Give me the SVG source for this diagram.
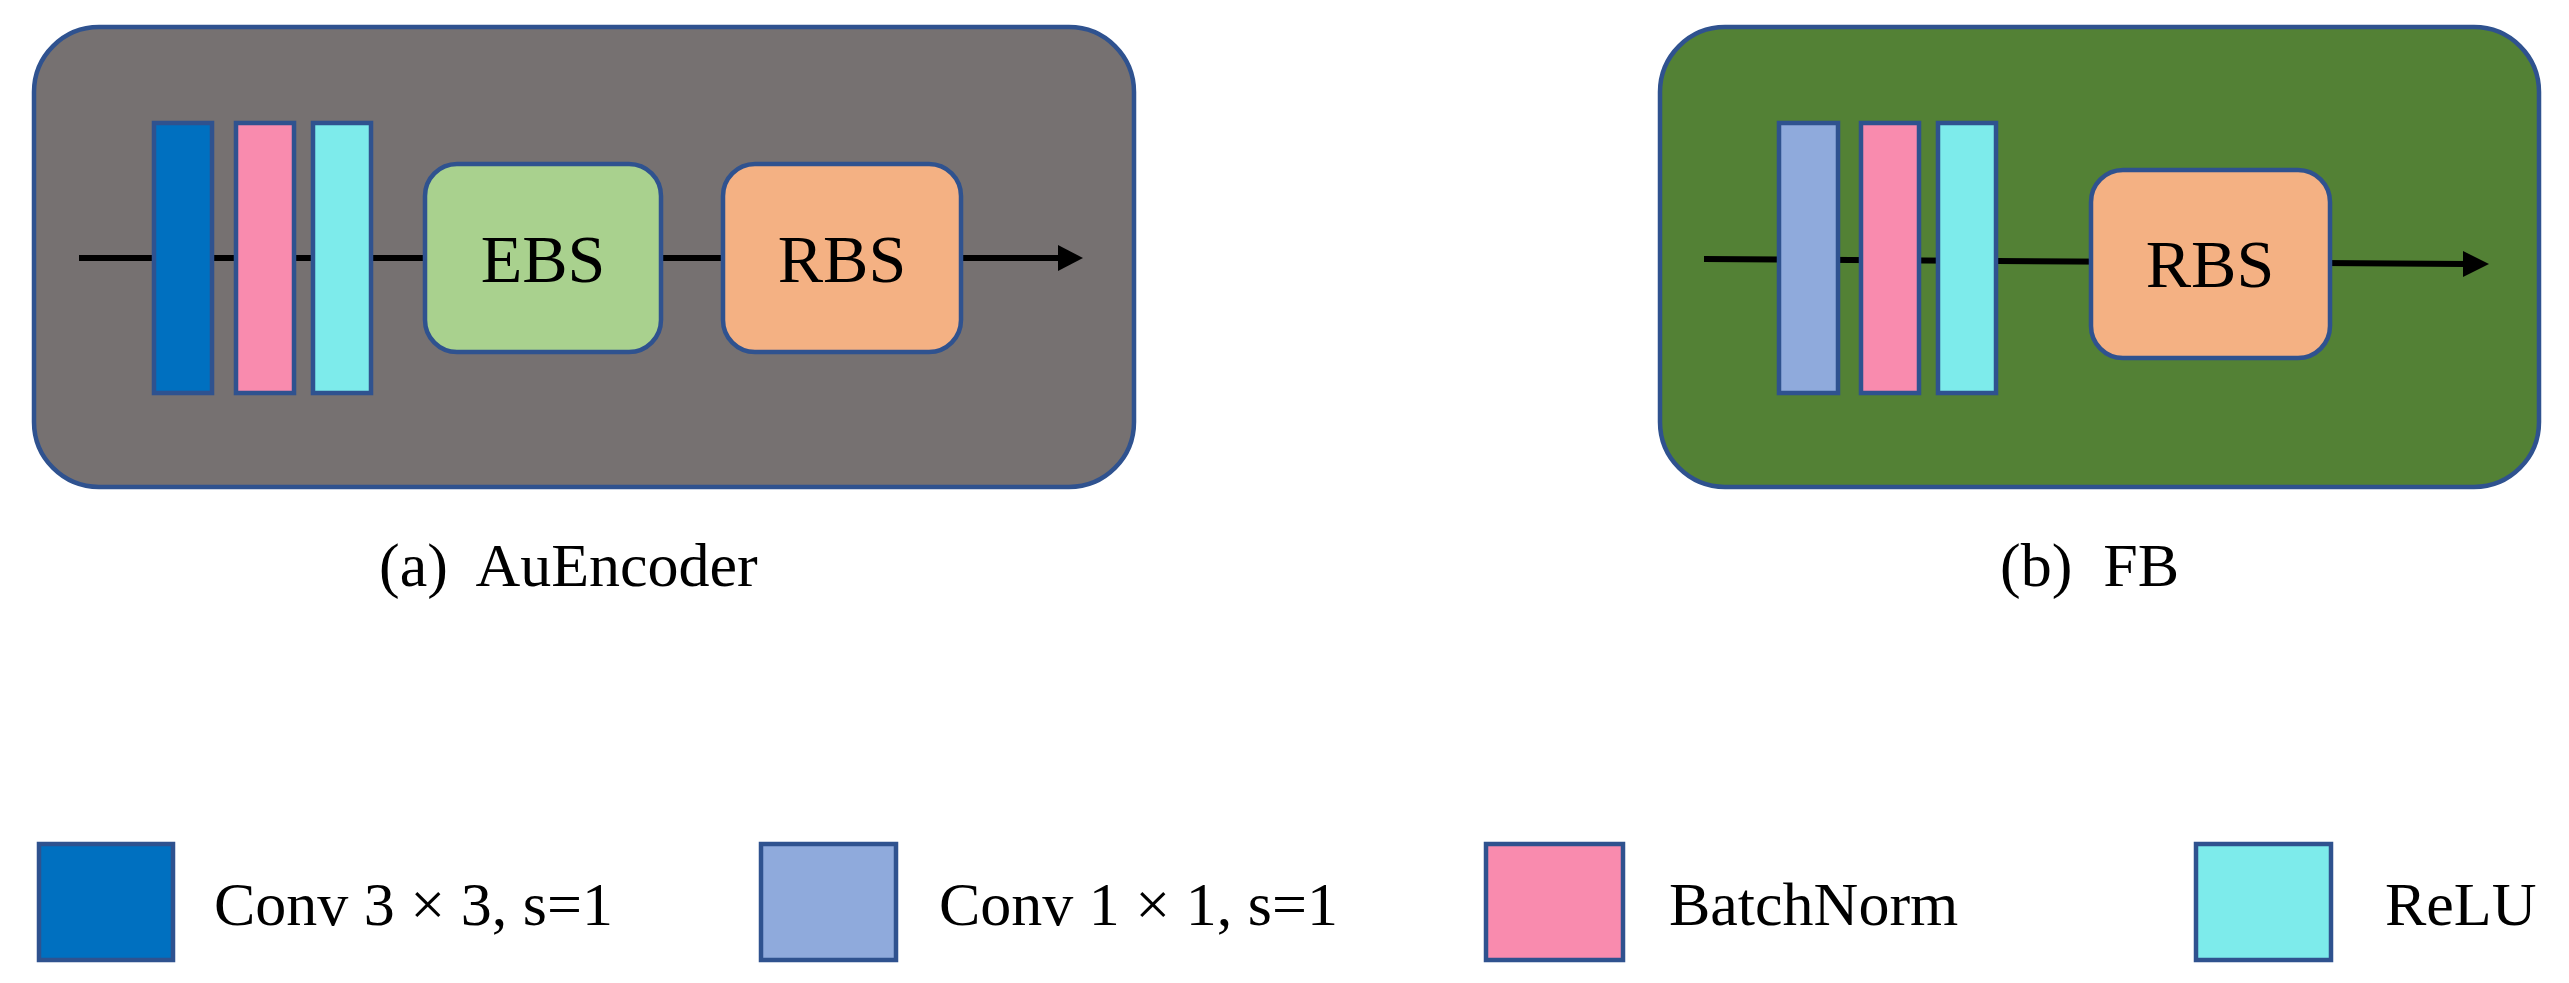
<svg xmlns="http://www.w3.org/2000/svg" width="2569" height="983" viewBox="0 0 2569 983">
<defs>
<style>
.o{stroke:#2F528F;stroke-width:4.5}
.t{font-family:"Liberation Serif",serif;fill:#000}
.ln{stroke:#000;stroke-width:6;fill:none}
</style>
<marker id="ah" markerWidth="10" markerHeight="10" refX="9" refY="5" orient="auto" markerUnits="userSpaceOnUse" viewBox="0 0 10 10"><path d="M0,0 L10,5 L0,10 z" fill="#000"/></marker>
</defs>
<rect width="2569" height="983" fill="#fff"/>
<g id="panelA">
<rect class="o" x="34" y="27" width="1100" height="460" rx="65" fill="#767171"/>
</g>
<g id="panelB">
<rect class="o" x="1660" y="27" width="879" height="460" rx="65" fill="#538135"/>
</g>
<g id="connectors">
<line class="ln" x1="79" y1="258" x2="1060" y2="258"/>
<path d="M1058,245 L1083,258 L1058,271 z" fill="#000"/>
<line class="ln" x1="1704" y1="259" x2="2465" y2="264"/>
<path d="M2463,251 L2489,264 L2463,277 z" fill="#000"/>
</g>
<g id="a_conv3"><rect class="o" x="154" y="123" width="58" height="270" fill="#0070C0"/></g>
<g id="a_bn"><rect class="o" x="236" y="123" width="58" height="270" fill="#F98BAE"/></g>
<g id="a_relu"><rect class="o" x="313" y="123" width="58" height="270" fill="#7DEBEB"/></g>
<g id="a_ebs"><rect class="o" x="425" y="164" width="236" height="188" rx="32" fill="#A9D18E"/><text class="t" x="543" y="282" font-size="68" text-anchor="middle">EBS</text></g>
<g id="a_rbs"><rect class="o" x="723" y="164" width="238" height="188" rx="32" fill="#F4B183"/><text class="t" x="842" y="282" font-size="68" text-anchor="middle">RBS</text></g>
<g id="b_conv1"><rect class="o" x="1779" y="123" width="59" height="270" fill="#8FAADC"/></g>
<g id="b_bn"><rect class="o" x="1861" y="123" width="58" height="270" fill="#F98BAE"/></g>
<g id="b_relu"><rect class="o" x="1938" y="123" width="58" height="270" fill="#7DEBEB"/></g>
<g id="b_rbs"><rect class="o" x="2091" y="170" width="239" height="188" rx="32" fill="#F4B183"/><text class="t" x="2210" y="287" font-size="68" text-anchor="middle">RBS</text></g>
<g id="captions">
<text class="t" x="379" y="586" font-size="62" xml:space="preserve">(a)  AuEncoder</text>
<text class="t" x="2000" y="586" font-size="62" xml:space="preserve">(b)  FB</text>
</g>
<g id="legend">
<rect class="o" x="39" y="844" width="134" height="116" fill="#0070C0"/>
<text class="t" x="214" y="925" font-size="62">Conv 3 × 3, s=1</text>
<rect class="o" x="761" y="844" width="135" height="116" fill="#8FAADC"/>
<text class="t" x="939" y="925" font-size="62">Conv 1 × 1, s=1</text>
<rect class="o" x="1486" y="844" width="137" height="116" fill="#F98BAE"/>
<text class="t" x="1669" y="925" font-size="62">BatchNorm</text>
<rect class="o" x="2196" y="844" width="135" height="116" fill="#7DEBEB"/>
<text class="t" x="2385" y="925" font-size="62">ReLU</text>
</g>
</svg>
